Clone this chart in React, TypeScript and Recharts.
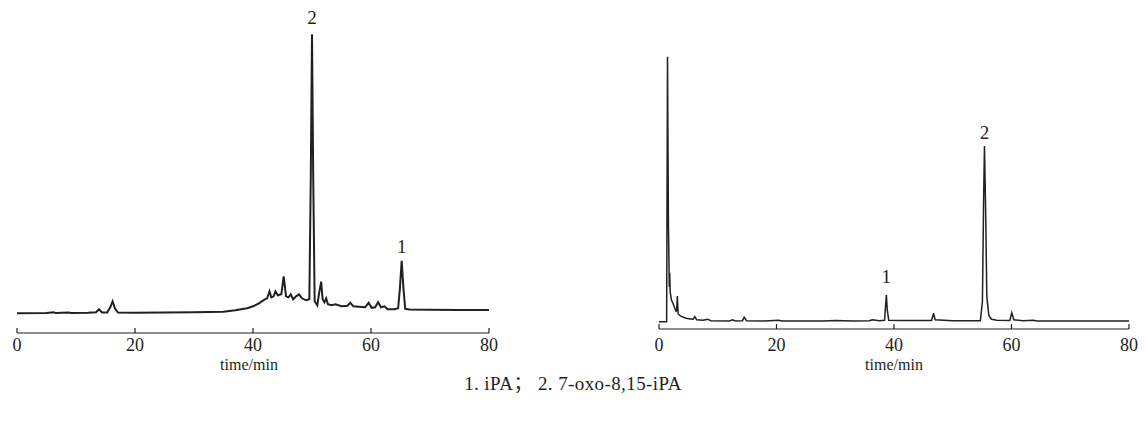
import { Line, LineChart, ReferenceDot, XAxis, YAxis } from "recharts";

const INK = "#231f20";
const SERIF = '"Liberation Serif", "Times New Roman", "Noto Sans CJK SC", serif';

const TIME_TICKS = [0, 20, 40, 60, 80];
const X_LABEL = "time/min";
const CAPTION = "1. iPA； 2. 7-oxo-8,15-iPA";

// [time (min), detector signal]
const LEFT_TRACE: [number, number][] = [
  [0, 0], [5, 0.2], [6.2, 1], [6.6, 0.2], [8.7, 0.8], [9.2, 0.3], [12, 0.5],
  [13.4, 1], [13.9, 4], [14.4, 0.8], [15.3, 0.8], [15.8, 6], [16.2, 12], [16.6, 5],
  [17.1, 0.8], [20, 0.6], [25, 0.8], [30, 1], [35, 1.5], [37, 3], [39, 5], [40, 7],
  [41, 10], [42, 14], [42.4, 15], [42.8, 22], [43.1, 16], [43.5, 17], [43.8, 22],
  [44.2, 18], [44.8, 19], [45.2, 37], [45.6, 17], [46, 16], [46.4, 19], [46.8, 14],
  [47.3, 17], [47.8, 19], [48.3, 15], [49, 13], [49.55, 14], [49.8, 140], [50, 279],
  [50.2, 140], [50.45, 12], [50.9, 8], [51.2, 20], [51.55, 31.6], [51.8, 14],
  [52.1, 11], [52.4, 15], [52.7, 9], [53.3, 8], [54, 9], [55, 7], [56, 7.5],
  [56.5, 10.5], [57, 7], [58, 6.5], [59, 6], [59.6, 10.5], [60.1, 5.5], [60.7, 6],
  [61.2, 11], [61.7, 6], [62.3, 7], [62.8, 4], [64, 4], [64.6, 5], [64.9, 25],
  [65.2, 52.6], [65.5, 25], [65.8, 4.5], [66.5, 3.8], [70, 3.5], [75, 3.3], [80, 3.3],
];

// [time (min), detector signal]
const RIGHT_TRACE: [number, number][] = [
  [0, 0], [1.3, 0], [1.45, 265], [1.6, 100], [1.75, 35], [1.82, 49], [1.9, 30],
  [2.1, 22], [2.4, 18], [2.9, 10.5], [3.0, 11], [3.12, 25.7], [3.25, 8], [3.7, 5.5],
  [4.6, 3.4], [5.4, 2.8], [5.8, 2.5], [6.1, 5], [6.4, 2], [7.5, 1.5], [8.3, 2.5],
  [8.8, 1], [12, 0.8], [12.5, 1.8], [13, 0.8], [14.2, 1], [14.5, 4.4], [14.9, 1],
  [18, 0.6], [20.3, 1.5], [21, 0.6], [28, 0.8], [30, 1.3], [33, 0.8], [35.8, 1],
  [36.3, 2], [37.5, 1], [38.4, 1.5], [38.55, 15], [38.7, 26.7], [38.85, 12],
  [39.1, 1.5], [41, 1.2], [46.4, 1.2], [46.75, 8.4], [47, 2], [50, 1], [54.7, 1],
  [55.05, 20], [55.25, 120], [55.4, 175.7], [55.6, 110], [55.8, 25], [56.15, 6],
  [56.6, 2.5], [57.5, 1.5], [59.7, 1.2], [60.05, 9], [60.4, 2], [62, 1], [63.7, 1.5],
  [64.3, 0.8], [70, 0.8], [80, 0.8],
];

const LEFT_PEAKS = [
  { name: "2", time: 50, signal: 279, gap: 9 },
  { name: "1", time: 65.2, signal: 52.6, gap: 7 },
];

const RIGHT_PEAKS = [
  { name: "1", time: 38.7, signal: 26.7, gap: 11 },
  { name: "2", time: 55.4, signal: 175.7, gap: 6 },
];

const toRows = (trace: [number, number][]) => trace.map(([time, signal]) => ({ time, signal }));

function makeTick(labelY: number) {
  return (props: any) => {
    const { x, y, payload } = props;
    return (
      <g>
        <line x1={x} x2={x} y1={y - 5} y2={y} stroke={INK} strokeWidth={1.2} />
        <text x={x} y={labelY} textAnchor="middle" fontSize={18} fill={INK} fontFamily={SERIF}>
          {payload.value}
        </text>
      </g>
    );
  };
}

function Chromatogram({
  trace,
  peaks,
  width,
  left,
  right,
  axisY,
  domain,
  strokeWidth,
  labelShift,
}: {
  trace: [number, number][];
  peaks: { name: string; time: number; signal: number; gap: number }[];
  width: number;
  left: number;
  right: number;
  axisY: number;
  domain: [number, number];
  strokeWidth: number;
  labelShift: number;
}) {
  const height = 380;
  const top = 20;
  return (
    <LineChart
      width={width}
      height={height}
      data={toRows(trace)}
      margin={{ top, right, bottom: 0, left }}
    >
      <XAxis
        dataKey="time"
        type="number"
        domain={[0, 80]}
        ticks={TIME_TICKS}
        height={height - axisY}
        stroke={INK}
        strokeWidth={1.2}
        tickLine={false}
        tickSize={0}
        tickMargin={0}
        tick={makeTick(351)}
        label={{
          value: X_LABEL,
          position: "insideBottom",
          offset: 10,
          dx: labelShift,
          fontSize: 16,
          fill: INK,
          fontFamily: SERIF,
        }}
      />
      <YAxis hide type="number" domain={domain} allowDataOverflow />
      <Line
        type="linear"
        dataKey="signal"
        stroke={INK}
        strokeWidth={strokeWidth}
        dot={false}
        isAnimationActive={false}
      />
      {peaks.map((p) => (
        <ReferenceDot
          key={p.name}
          x={p.time}
          y={p.signal}
          r={1}
          fill="none"
          stroke="none"
          label={{
            value: p.name,
            position: "top",
            offset: p.gap,
            fontSize: 19,
            fill: INK,
            fontFamily: SERIF,
          }}
        />
      ))}
    </LineChart>
  );
}

export default function App() {
  return (
    <div
      style={{
        position: "absolute",
        left: 0,
        top: 0,
        width: 1146,
        height: 423,
        background: "#fff",
        overflow: "hidden",
      }}
    >
      <div style={{ position: "absolute", left: 0, top: 0 }}>
        <Chromatogram
          trace={LEFT_TRACE}
          peaks={LEFT_PEAKS}
          width={520}
          left={17}
          right={31}
          axisY={333}
          domain={[-19.7, 293.3]}
          strokeWidth={2}
          labelShift={-4}
        />
      </div>
      <div style={{ position: "absolute", left: 600, top: 0 }}>
        <Chromatogram
          trace={RIGHT_TRACE}
          peaks={RIGHT_PEAKS}
          width={546}
          left={59}
          right={17}
          axisY={329}
          domain={[-7.3, 301.7]}
          strokeWidth={1.5}
          labelShift={0}
        />
      </div>
      <div
        style={{
          position: "absolute",
          left: 0,
          top: 368,
          width: 1146,
          textAlign: "center",
          fontFamily: SERIF,
          fontSize: 19,
          letterSpacing: 0.4,
          color: INK,
        }}
      >
        {CAPTION}
      </div>
    </div>
  );
}
